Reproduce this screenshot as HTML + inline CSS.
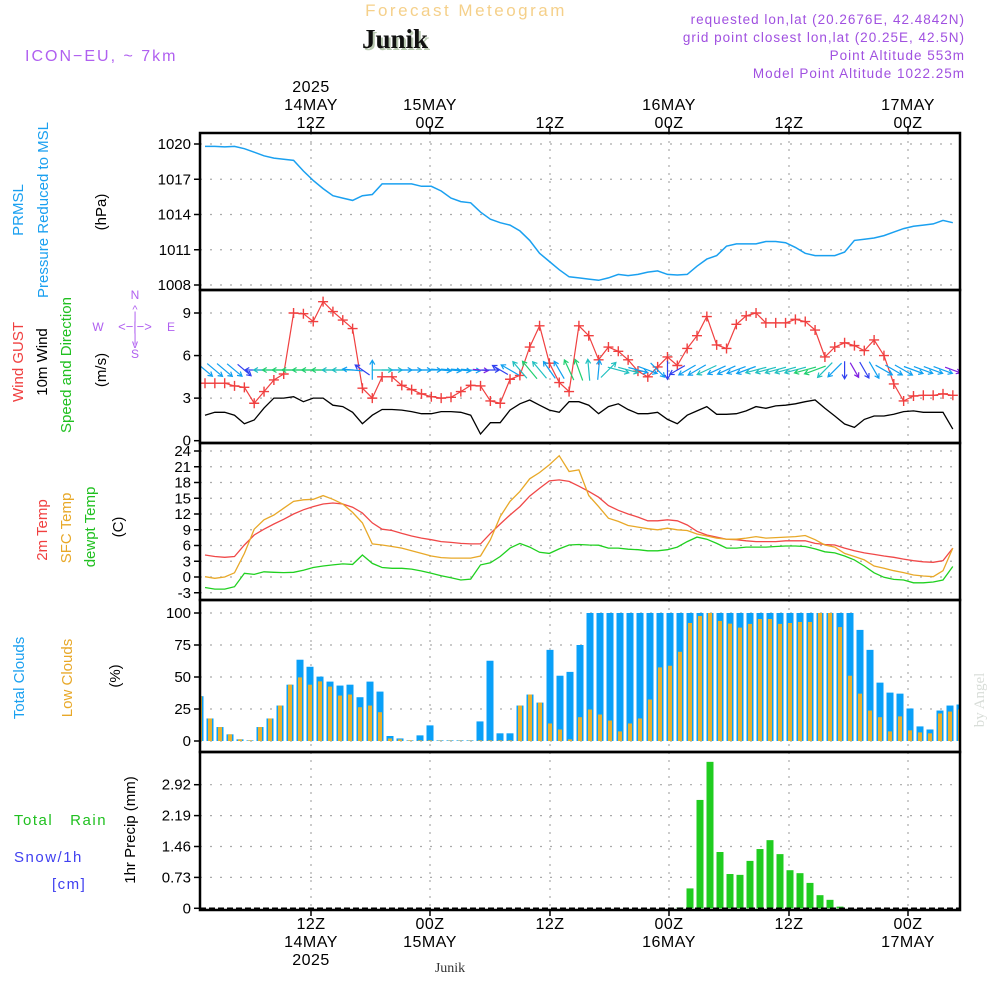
<!DOCTYPE html>
<html><head><meta charset="utf-8"><style>
html,body{margin:0;padding:0;background:#fff;}
svg{display:block;font-family:"Liberation Sans",sans-serif;}
</style></head><body>
<svg id="chart" width="1000" height="1000" viewBox="0 0 1000 1000" xmlns="http://www.w3.org/2000/svg">
<defs><clipPath id="plotclip"><rect x="200" y="133" width="760" height="777"/></clipPath></defs>
<rect width="1000" height="1000" fill="#fff"/>
<g>
<text x="466" y="16" text-anchor="middle" font-size="17" fill="#f5d08a" letter-spacing="2.5">Forecast Meteogram</text>
<text x="397" y="50" text-anchor="middle" font-size="27" font-weight="bold" font-family="Liberation Serif, serif" fill="#b8c8b0">Junik</text>
<text x="395" y="48" text-anchor="middle" font-size="27" font-weight="bold" font-family="Liberation Serif, serif" fill="#111">Junik</text>
<text x="25" y="61" font-size="16" fill="#b060f0" letter-spacing="2">ICON−EU, ~ 7km</text>
<g font-size="13.5" fill="#a050e0" text-anchor="end" letter-spacing="1">
<text x="965" y="24">requested lon,lat (20.2676E, 42.4842N)</text>
<text x="965" y="42">grid point closest lon,lat (20.25E, 42.5N)</text>
<text x="965" y="60">Point Altitude 553m</text>
<text x="965" y="78">Model Point Altitude 1022.25m</text>
</g>
</g>
<g id="grid"></g>
<g id="marks" clip-path="url(#plotclip)"></g>
<g id="axes"></g>
<g font-size="15">
<text transform="translate(23,210) rotate(-90)" text-anchor="middle" fill="#1aa0f0">PRMSL</text>
<text transform="translate(48,210) rotate(-90)" text-anchor="middle" fill="#1aa0f0">Pressure Reduced to MSL</text>
<text transform="translate(106,212) rotate(-90)" text-anchor="middle" fill="#000">(hPa)</text>
<text transform="translate(23,362) rotate(-90)" text-anchor="middle" fill="#f04040">Wind GUST</text>
<text transform="translate(47,362) rotate(-90)" text-anchor="middle" fill="#000">10m Wind</text>
<text transform="translate(71,365) rotate(-90)" text-anchor="middle" fill="#20c020">Speed and Direction</text>
<text transform="translate(106,370) rotate(-90)" text-anchor="middle" fill="#000">(m/s)</text>
<g fill="#b060f0" font-size="12" text-anchor="middle">
<text x="98" y="331">W</text><text x="171" y="331">E</text><text x="135" y="299">N</text><text x="135" y="358">S</text>
<text x="135" y="331" font-size="13">&lt;−|−&gt;</text>
<text x="135" y="313" font-size="11">^</text><text x="135" y="320">|</text><text x="135" y="342">|</text><text x="135" y="348">v</text>
</g>
<text transform="translate(47,530) rotate(-90)" text-anchor="middle" fill="#f04040">2m Temp</text>
<text transform="translate(71,528) rotate(-90)" text-anchor="middle" fill="#e8a828">SFC Temp</text>
<text transform="translate(95,527) rotate(-90)" text-anchor="middle" fill="#20c020">dewpt Temp</text>
<text transform="translate(123,527) rotate(-90)" text-anchor="middle" fill="#000">(C)</text>
<text transform="translate(24,678) rotate(-90)" text-anchor="middle" fill="#1aa0f0">Total Clouds</text>
<text transform="translate(72,678) rotate(-90)" text-anchor="middle" fill="#e8a828">Low Clouds</text>
<text transform="translate(120,676) rotate(-90)" text-anchor="middle" fill="#000">(%)</text>
<text x="14" y="825" fill="#20c020" letter-spacing="1.5">Total&#160;&#160;&#160;Rain</text>
<text x="14" y="862" fill="#4040f0" letter-spacing="1.5">Snow/1h</text>
<text x="52" y="889" fill="#4040f0" letter-spacing="1.5">[cm]</text>
<text transform="translate(135,830) rotate(-90)" text-anchor="middle" fill="#000">1hr Precip (mm)</text>
<text transform="translate(984,700) rotate(-90)" text-anchor="middle" fill="#d8ddd8" font-family="Liberation Serif, serif" font-size="15">by Angel</text>
<text x="450" y="972" text-anchor="middle" font-family="Liberation Serif, serif" font-size="14" fill="#333">Junik</text>
</g>
</svg>
<script>
const hours = [];for(let h=1;h<=77;h++)hours.push(h);
const pressure=[1019.8,1019.8,1019.75,1019.8,1019.6,1019.3,1019.0,1018.8,1018.7,1018.6,1017.7,1016.9,1016.2,1015.6,1015.4,1015.2,1015.6,1015.7,1016.6,1016.6,1016.6,1016.6,1016.4,1016.4,1016.0,1015.4,1015.1,1015.0,1014.2,1013.6,1013.3,1013.1,1012.6,1011.8,1010.7,1010.0,1009.3,1008.7,1008.6,1008.5,1008.4,1008.6,1008.9,1008.8,1008.9,1009.1,1009.2,1008.9,1008.85,1008.9,1009.6,1010.2,1010.5,1011.3,1011.5,1011.5,1011.5,1011.7,1011.7,1011.6,1011.2,1010.7,1010.5,1010.5,1010.5,1010.8,1011.8,1011.9,1012.0,1012.2,1012.5,1012.8,1013.0,1013.1,1013.2,1013.5,1013.3];
const gust=[4.05,4.05,4.05,3.86,3.76,2.64,3.46,4.28,4.7,9.0,8.95,8.4,9.8,9.1,8.5,7.9,3.7,3.0,4.5,4.5,3.9,3.6,3.3,3.1,3.0,3.06,3.46,3.9,3.86,2.8,2.64,4.33,4.6,6.6,8.1,5.46,4.1,3.46,8.1,7.4,5.7,6.6,6.3,5.7,4.9,4.5,5.2,5.9,5.3,6.5,7.4,8.75,6.75,6.5,8.2,8.8,9.0,8.3,8.3,8.3,8.55,8.4,7.8,5.9,6.6,6.9,6.7,6.35,7.1,6.0,4.0,2.8,3.15,3.2,3.2,3.3,3.2];
const wind=[1.8,2.0,2.0,1.8,1.2,1.46,2.3,3.0,3.0,3.1,2.75,3.0,3.0,2.5,2.4,2.0,1.2,1.8,2.2,2.2,2.16,2.05,1.9,1.9,2.05,2.05,2.0,1.8,0.47,1.27,1.27,2.16,2.6,2.87,2.5,2.16,2.0,2.75,2.75,2.5,1.9,2.4,2.6,2.2,1.9,1.9,2.0,1.5,1.2,1.8,2.1,2.4,1.86,1.86,1.9,2.1,2.4,2.28,2.45,2.5,2.6,2.75,2.87,2.28,1.74,1.18,0.94,1.5,1.74,1.74,1.86,2.05,2.1,2.0,2.0,2.0,0.82];
// arrow heading angle on screen (deg, 0 = pointing right, 90 = pointing down)
const windHeading=[40,40,40,40,40,180,180,180,180,180,180,180,180,180,180,185,-145,-90,0,0,0,0,0,0,5,5,5,5,5,0,-150,-150,-130,-130,-130,-125,-120,-115,-110,-95,-85,-45,15,15,15,20,45,90,150,150,150,155,155,155,160,160,165,165,165,165,165,165,160,135,135,90,60,60,60,30,30,30,20,20,20,20,20];
const temp2m=[4.2,3.9,3.75,3.9,6.1,8.0,9.1,10.1,11.0,12.0,12.8,13.4,13.9,14.1,13.9,13.3,12.2,10.3,9.1,8.85,8.3,7.8,7.4,7.1,6.75,6.6,6.4,6.3,6.3,8.3,10.1,11.8,13.4,15.4,16.9,18.3,18.5,18.2,17.3,16.3,15.2,13.6,12.7,12.0,11.4,10.7,10.7,10.9,10.7,9.9,8.7,8.0,7.6,7.2,7.1,6.9,6.75,6.75,6.75,6.9,6.9,6.9,6.4,6.2,6.1,5.5,5.0,4.6,4.3,4.0,3.76,3.4,3.1,2.9,2.8,3.1,5.5];
const sfcTemp=[0.06,-0.25,0,0.8,4.5,9.1,10.9,11.8,13.1,14.4,14.7,14.8,15.5,14.8,13.9,12.3,10.3,6.3,6.1,5.8,5.5,5.0,4.5,4.0,3.7,3.6,3.6,3.6,4.0,7.1,11.5,14.4,16.3,18.7,19.9,21.4,23.1,20.1,20.4,15.5,13.4,11.2,10.6,9.8,9.5,9.2,9.0,9.3,9.0,8.85,8.2,7.8,7.4,7.2,7.2,7.4,7.7,7.4,7.5,7.6,7.7,7.9,7.1,6.1,5.7,4.5,3.9,3.25,2.1,1.65,1.2,0.83,0.38,0.2,0.06,1.2,5.5];
const dewpt=[-2.0,-2.3,-2.3,-1.85,0.7,0.5,1.0,0.9,0.83,0.9,1.3,1.8,2.1,2.3,2.5,2.4,4.2,2.6,1.8,1.65,1.65,1.5,1.15,0.7,0.25,-0.13,-0.57,-0.4,2.3,2.7,3.9,5.5,6.4,5.7,4.7,4.5,5.35,6.1,6.2,6.1,6.05,5.5,5.5,5.3,5.2,5.0,5.0,5.2,5.7,6.75,7.6,7.2,6.4,5.5,5.5,5.7,5.7,5.7,5.8,5.9,5.9,5.8,5.35,4.8,4.6,4.0,3.25,2.1,0.8,-0.06,-0.45,-0.57,-1.1,-1.1,-0.95,-0.57,2.0];
const barIdx=[];for(let k=0;k<=76;k++)barIdx.push(k);
const totalCloud=[35,17.6,10.9,5.2,1.3,0.5,10.9,17.6,27.7,44,63.5,58,50.3,46.4,43.3,44,34.2,46.4,38.6,3.9,2,0.5,4.4,12.2,0.5,0.5,0.5,0.5,15.3,62.7,6,6,27.7,36.3,30,71.2,51,54,75,100,100,100,100,100,100,100,100,100,100,100,100,100,100,100,100,100,100,100,100,100,100,100,100,100,100,100,86.8,71.2,45.6,37.8,37,25.4,11.4,9,23.8,27.7,28.5];
const lowCloud=[35,17.6,10.9,5.2,1.3,0.5,10.9,17.6,27.7,44,49.7,44,46.6,42.5,35.5,36.3,26.4,27.7,22.5,2,1.3,0.5,0.5,0.5,0.3,0.3,0.3,0.3,0.5,0.5,0.5,0.5,27.7,36.3,30,13.7,9,1.3,18.6,24.6,20.7,16,7.5,13.7,17.6,32.4,57.5,58.8,69.7,92.2,97.7,100,93.8,91.7,88.6,91.5,95.3,95.3,91.5,92.2,93,93,100,100,89,51,37,23.8,18.6,7.5,19.2,8.3,6.7,6,21.5,23,24.6];
const precip=[0,0,0,0,0,0,0,0,0,0,0,0,0,0,0,0,0,0,0,0,0,0,0,0,0,0,0,0,0,0,0,0,0,0,0,0,0,0,0,0,0,0,0,0,0,0,0,0,0.02,0.47,2.56,3.46,1.33,0.81,0.79,1.12,1.40,1.61,1.28,0.9,0.83,0.6,0.31,0.2,0.04,0,0,0,0,0,0,0,0,0,0,0,0];
const timeTicksX=[311,430,550,669,789,908];
const topLabels=[["2025","14MAY","12Z"],["","15MAY","00Z"],["","","12Z"],["","16MAY","00Z"],["","","12Z"],["","17MAY","00Z"]];
const botLabels=[["12Z","14MAY","2025"],["00Z","15MAY",""],["12Z","",""],["00Z","16MAY",""],["12Z","",""],["00Z","17MAY",""]];
const pTicks=[1008,1011,1014,1017,1020];
const wTicks=[0,3,6,9];
const tTicks=[-3,0,3,6,9,12,15,18,21,24];
const cTicks=[0,25,50,75,100];
const rTicks=[0,0.73,1.46,2.19,2.92];

const NS='http://www.w3.org/2000/svg';
function mk(tag,attrs,parent){const e=document.createElementNS(NS,tag);for(const k in attrs)e.setAttribute(k,attrs[k]);parent.appendChild(e);return e;}
const G=document.getElementById('grid'),M=document.getElementById('marks'),A=document.getElementById('axes');
const X0=200,X1=960;
const xLine=h=>205+(h-1)*9.84;
const xBar=k=>200+k*10;
function lin(d0,d1,r0,r1){return v=>r0+(v-d0)*(r1-r0)/(d1-d0);}
const yP=lin(1008,1020,285,144), yW=lin(0,9,440.7,313), yT=lin(0,24,577,451), yC=lin(0,100,741,613), yR=lin(0,2.92,908.3,784.7);
const panels=[[133,290,pTicks,yP,v=>String(v)],[290,443,wTicks,yW,v=>String(v)],[443,600,tTicks,yT,v=>String(v)],[600,752,cTicks,yC,v=>String(v)],[752,910,rTicks,yR,v=>String(v)]];
const pnames=['pressure','wind','temperature','clouds','precip'];
panels.forEach((p,i)=>{
  const [t,b,ticks,ys]=p;
  ticks.forEach(v=>{
    const y=ys(v);
    if(Math.abs(y-t)>3&&Math.abs(y-b)>3){
      const l=mk('line',{x1:X0,x2:X1,y1:y,y2:y,stroke:'#aaa','stroke-width':1.2,'stroke-dasharray':'2 8'},G);
      
      
    }
    const tk=mk('line',{x1:194,x2:X0,y1:y,y2:y,stroke:'#000','stroke-width':1.5},A);
    
    
    const tx=mk('text',{x:191,y:y+5,'text-anchor':'end','font-size':15,fill:'#000'},A);
    
    
    tx.textContent=p[4](v);
  });
  timeTicksX.forEach(x=>{
    const l=mk('line',{x1:x,x2:x,y1:t,y2:b,stroke:'#aaa','stroke-width':1.2,'stroke-dasharray':'2 6'},G);
    
    
  });
  const r=mk('rect',{x:X0,y:t,width:X1-X0,height:b-t,fill:'none',stroke:'#000','stroke-width':2.5},A);
  
  
});
timeTicksX.forEach((x,i)=>{
  const a=mk('line',{x1:x,x2:x,y1:126,y2:133,stroke:'#000','stroke-width':1.5},A);
  
  
  const b=mk('line',{x1:x,x2:x,y1:910,y2:916,stroke:'#000','stroke-width':1.5},A);
  
  
  topLabels[i].forEach((s,j)=>{if(!s)return;
    const e=mk('text',{x:x,y:92+j*18,'text-anchor':'middle','font-size':16,fill:'#000','letter-spacing':'0.5'},A);
    
    
    e.textContent=s;});
  botLabels[i].forEach((s,j)=>{if(!s)return;
    const e=mk('text',{x:x,y:929+j*18,'text-anchor':'middle','font-size':16,fill:'#000','letter-spacing':'0.5'},A);
    
    
    e.textContent=s;});
});
function line(vals,ys,color,name,w){
  const d=vals.map((v,i)=>(i?'L':'M')+xLine(hours[i]).toFixed(1)+','+ys(v).toFixed(1)).join('');
  const p=mk('path',{d:d,fill:'none',stroke:color,'stroke-width':w||1.3},M);
  
  
}
barIdx.forEach(k=>{
  const x=xBar(k);
  const bt=mk('rect',{x:x-3.5,y:yC(totalCloud[k]),width:7,height:yC(0)-yC(totalCloud[k]),fill:'#0aa0f8'},M);
  
  
  const bl=mk('rect',{x:x-2,y:yC(lowCloud[k]),width:4,height:yC(0)-yC(lowCloud[k]),fill:'#e8b030'},M);
  
  
  if(precip[k]>0){
    const br=mk('rect',{x:x-3.5,y:yR(precip[k]),width:7,height:yR(0)-yR(precip[k]),fill:'#20cc20'},M);
    
    
  }
});
const zl=mk('line',{x1:X0,x2:X1,y1:yR(0),y2:yR(0),stroke:'#000','stroke-width':1.5,'stroke-dasharray':'6 3'},M);


line(pressure,yP,'#1aa0f0','pressure-line',1.5);
line(wind,yW,'#000','wind-speed-line',1.3);
line(gust,yW,'#f04040','gust-line',1.2);
gust.forEach((v,i)=>{
  const x=xLine(hours[i]),y=yW(v);
  const c=mk('path',{d:`M${x-5},${y}H${x+5}M${x},${y-5}V${y+5}`,stroke:'#f04040','stroke-width':1.4},M);
  
  
});
function arrowColor(s){if(s<1)return'#8020e0';if(s<1.6)return'#3040f0';if(s<2.2)return'#10a0f0';if(s<2.7)return'#20c0c0';return'#20d070';}
windHeading.forEach((a,i)=>{
  const s=wind[i],len=14+s*3,r=a*Math.PI/180;
  const cx=xLine(hours[i]),cy=370;
  const x1=cx-Math.cos(r)*len/2,y1=cy-Math.sin(r)*len/2,x2=cx+Math.cos(r)*len/2,y2=cy+Math.sin(r)*len/2;
  const h1=r+Math.PI*0.83,h2=r-Math.PI*0.83;
  const d=`M${x1.toFixed(1)},${y1.toFixed(1)}L${x2.toFixed(1)},${y2.toFixed(1)}M${(x2+Math.cos(h1)*5).toFixed(1)},${(y2+Math.sin(h1)*5).toFixed(1)}L${x2.toFixed(1)},${y2.toFixed(1)}L${(x2+Math.cos(h2)*5).toFixed(1)},${(y2+Math.sin(h2)*5).toFixed(1)}`;
  const p=mk('path',{d:d,fill:'none',stroke:arrowColor(s),'stroke-width':1.2},M);
  
  
});
line(temp2m,yT,'#f04848','temp-2m-line',1.3);
line(sfcTemp,yT,'#e8a828','sfc-temp-line',1.3);
line(dewpt,yT,'#20d020','dewpoint-line',1.3);
</script>
</body></html>
